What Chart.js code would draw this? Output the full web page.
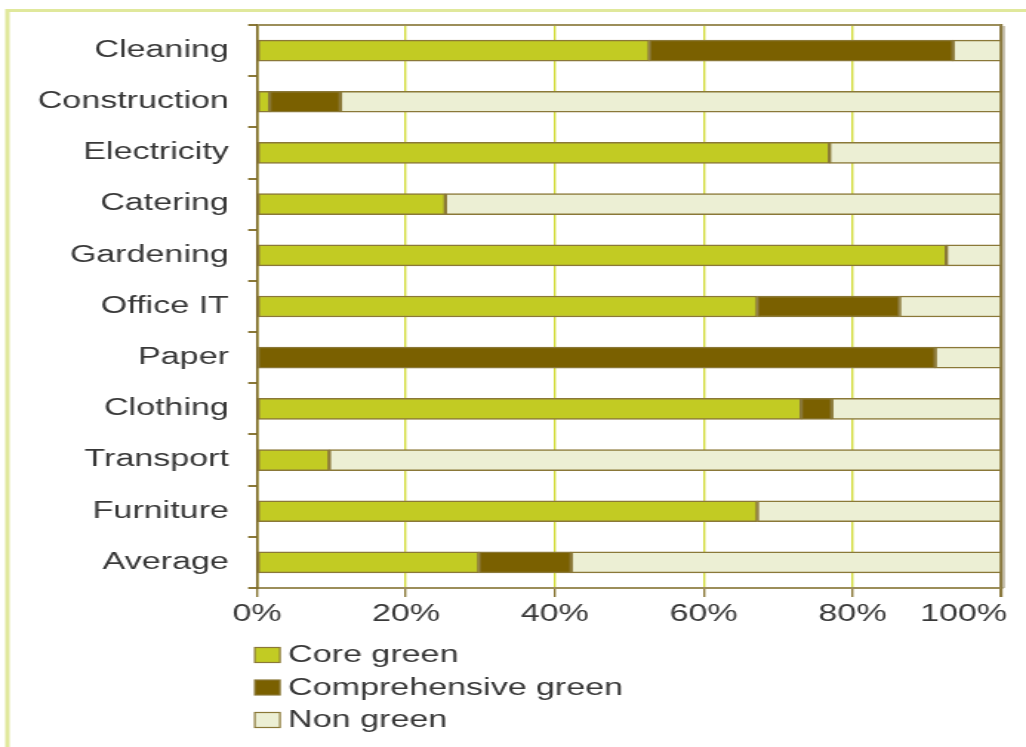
<!DOCTYPE html>
<html>
<head>
<meta charset="utf-8">
<script src="https://cdn.jsdelivr.net/npm/chart.js@4"></script>
<style>
  html, body { margin: 0; padding: 0; background: #fff; overflow: hidden; }
  /* the reference is a horizontally stretched picture, so draw narrow and stretch */
  #wrap { width: 693px; height: 747px; transform: scaleX(1.4805); transform-origin: 0 0; }
</style>
</head>
<body>
<div id="wrap"><canvas id="myChart"></canvas></div>
<script>
var categories = ['Cleaning', 'Construction', 'Electricity', 'Catering', 'Gardening', 'Office IT',
                  'Paper', 'Clothing', 'Transport', 'Furniture', 'Average'];
var coreGreen = [52.7, 1.7, 76.9, 25.3, 92.6, 67.2, 0, 73.1, 9.7, 67.2, 29.8];
var comprehensiveGreen = [40.8, 9.5, 0, 0, 0, 19.1, 91.1, 4.1, 0, 0, 12.4];
var nonGreen = [6.5, 88.8, 23.1, 74.7, 7.4, 13.7, 8.9, 22.8, 90.3, 32.8, 57.8];
var xTickLabels = ['0%', '20%', '40%', '60%', '80%', '100%'];
var seriesNames = ['Core green', 'Comprehensive green', 'Non green'];

var FONT = '"Liberation Sans", Arial, sans-serif';
var TEXT = '#383838';
var OLIVE = '#8a7838';

// frame round the figure + right edge of the plot drawn over the bar ends
var framePlugin = {
  id: 'frame',
  beforeDraw: function (chart) {
    var c = chart.ctx;
    c.save();
    c.strokeStyle = '#e0e89c';
    c.lineWidth = 3;
    c.beginPath();
    c.moveTo(5, chart.height + 5);
    c.lineTo(5, 10.5);
    c.lineTo(chart.width + 5, 10.5);
    c.stroke();
    c.restore();
  },
  afterDatasetsDraw: function (chart) {
    var c = chart.ctx, a = chart.chartArea;
    var x = chart.scales.x.getPixelForValue(100);
    c.save();
    c.strokeStyle = 'rgba(150,140,110,0.5)';
    c.lineWidth = 2;
    c.beginPath();
    c.moveTo(x + 1.6, a.top + 1);
    c.lineTo(x + 1.6, a.bottom);
    c.stroke();
    c.strokeStyle = '#8a7a40';
    c.lineWidth = 1.6;
    c.beginPath();
    c.moveTo(x, a.top - 1);
    c.lineTo(x, a.bottom + 9);
    c.stroke();
    c.restore();
  }
};

// legend stacked one per row under the axis
var stackLegend = {
  id: 'stackLegend',
  afterDraw: function (chart) {
    var c = chart.ctx, a = chart.chartArea;
    c.save();
    c.font = '23px ' + FONT;
    c.textBaseline = 'middle';
    c.textAlign = 'left';
    chart.data.datasets.forEach(function (ds, i) {
      var y = a.bottom + 67 + i * 32.5;
      c.fillStyle = ds.backgroundColor;
      c.fillRect(a.left - 1.5, y - 7.5, 17, 15);
      c.strokeStyle = OLIVE;
      c.lineWidth = 1.2;
      c.strokeRect(a.left - 1.5, y - 7.5, 17, 15);
      c.fillStyle = TEXT;
      c.fillText(ds.label, a.left + 21, y + 1);
    });
    c.restore();
  }
};

function chart() {
  var ctx = document.getElementById('myChart').getContext('2d');
  var myChart = new Chart(ctx, {
    type: 'bar',
    data: {
      labels: categories,
      datasets: [{
        label: seriesNames[0],
        data: coreGreen,
        backgroundColor: '#c2cb23'
      }, {
        label: seriesNames[1],
        data: comprehensiveGreen,
        backgroundColor: '#7a6000'
      }, {
        label: seriesNames[2],
        data: nonGreen,
        backgroundColor: '#ecefd4'
      }]
    },
    options: {
      indexAxis: 'y',
      responsive: true,
      maintainAspectRatio: false,
      animation: false,
      datasets: {
        bar: {
          barThickness: 21,
          borderColor: OLIVE,
          borderWidth: 1.5,
          borderSkipped: false
        }
      },
      layout: { padding: { left: 0, right: 16.6, top: 25, bottom: 0 } },
      plugins: {
        legend: { display: false },
        tooltip: { enabled: false }
      },
      scales: {
        x: {
          stacked: true,
          min: 0,
          max: 100,
          ticks: {
            stepSize: 20,
            autoSkip: false,
            padding: 4,
            color: TEXT,
            font: { family: FONT, size: 23 },
            maxRotation: 0,
            callback: function (v, i) {
              var t = xTickLabels[i];
              return i === xTickLabels.length - 1 ? t + '        ' : t;
            }
          },
          grid: {
            color: function (c) { return c.tick && c.tick.value === 100 ? '#8e7f4a' : '#d3dc3c'; },
            lineWidth: function (c) { return c.tick && c.tick.value === 100 ? 2 : 1.4; },
            tickColor: OLIVE,
            tickLength: 9
          },
          border: { color: '#9c8e5a', width: 2 },
          afterFit: function (s) {
            s.height = 159;
            s.paddingLeft = 0;
            s.paddingRight = 0;
          }
        },
        y: {
          stacked: true,
          ticks: {
            padding: 13,
            color: TEXT,
            font: { family: FONT, size: 23 }
          },
          grid: {
            offset: true,
            color: function (c) { return c.index === 0 ? '#9c8e5a' : 'rgba(0,0,0,0)'; },
            lineWidth: 2,
            tickColor: OLIVE,
            tickLength: 6
          },
          border: { color: '#7d6a2a', width: 1.6 },
          afterFit: function (s) {
            s.width = 173.6;
            s.paddingTop = 0;
            s.paddingBottom = 0;
          }
        }
      }
    },
    plugins: [framePlugin, stackLegend]
  });
}

chart()
</script>
</body>
</html>
